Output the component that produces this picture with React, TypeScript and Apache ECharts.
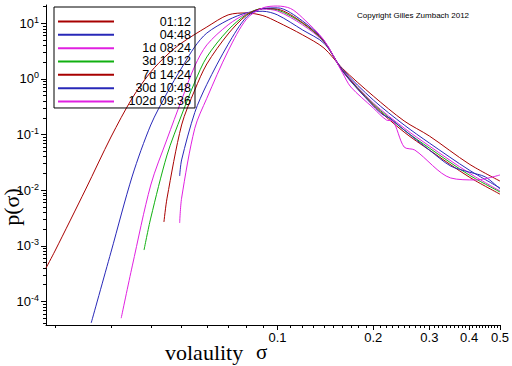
import React, { useEffect, useRef } from "react";
import * as echarts from "echarts";

const NAMES = ["01:12", "04:48", "1d 08:24", "3d 19:12", "7d 14:24", "30d 10:48", "102d 09:36"];
const COLORS = ["#a80000", "#2828b8", "#e020e0", "#10b010", "#a80000", "#2828b8", "#e020e0"];

const X1 = [0.01875, 0.02, 0.025, 0.03, 0.035, 0.04, 0.045, 0.05, 0.06, 0.07, 0.08, 0.09, 0.1, 0.12, 0.14, 0.16, 0.2, 0.25, 0.3, 0.4, 0.5];
const P1 = [3.98e-4, 8.05e-4, 0.0105, 0.0905, 0.455, 1.34, 2.7, 4.44, 8.6, 14.2, 15.4, 13.8, 10.6, 6.2, 3.6, 1.55, 0.494, 0.176, 0.0944, 0.0296, 0.0146];

const X2 = [0.026, 0.03, 0.035, 0.04, 0.045, 0.05, 0.055, 0.06, 0.07, 0.08, 0.09, 0.1, 0.12, 0.14, 0.16, 0.2, 0.25, 0.3, 0.4, 0.5];
const P2 = [4.1e-5, 7.7e-4, 0.018, 0.149, 0.56, 1.58, 3.8, 6.7, 11.5, 15.5, 16.5, 14.2, 7.6, 4.4, 1.5, 0.419, 0.149, 0.0706, 0.0231, 0.011];

const X3 = [0.0323, 0.035, 0.04, 0.045, 0.05, 0.055, 0.06, 0.07, 0.08, 0.09, 0.1, 0.12, 0.14, 0.16, 0.2, 0.25, 0.3, 0.4, 0.5];
const P3 = [5.0e-5, 4.35e-4, 0.0124, 0.083, 0.42, 1.71, 4.1, 9.4, 15, 18, 16.7, 9.4, 4.6, 1.45, 0.37, 0.131, 0.0624, 0.0204, 0.0097];

const X4 = [0.0381, 0.04, 0.045, 0.05, 0.055, 0.06, 0.07, 0.08, 0.09, 0.1, 0.12, 0.14, 0.16, 0.2, 0.25, 0.3, 0.4, 0.5];
const P4 = [8.4e-4, 3.16e-3, 0.043, 0.225, 0.88, 2.49, 7.6, 14.5, 18.5, 17.5, 10, 4.7, 1.42, 0.355, 0.121, 0.0574, 0.0188, 0.0093];

const X5 = [0.044, 0.045, 0.05, 0.055, 0.06, 0.07, 0.08, 0.09, 0.1, 0.12, 0.14, 0.16, 0.2, 0.25, 0.3, 0.4, 0.5];
const P5 = [2.68e-3, 7.2e-3, 0.149, 0.634, 1.86, 6.45, 14, 18.5, 18, 10.3, 4.8, 1.4, 0.34, 0.111, 0.0528, 0.0173, 0.0085];

const X6 = [0.0493, 0.05, 0.055, 0.06, 0.07, 0.08, 0.09, 0.1, 0.12, 0.14, 0.16, 0.2, 0.215, 0.225, 0.25, 0.3, 0.35, 0.4, 0.45, 0.5];
const P6 = [0.018, 0.035, 0.25, 0.8, 4.2, 13, 18.5, 19, 11, 4.9, 1.38, 0.327, 0.225, 0.199, 0.121, 0.0528, 0.0272, 0.0212, 0.0173, 0.0105];

const X7 = [0.0493, 0.05, 0.055, 0.06, 0.07, 0.08, 0.09, 0.1, 0.11, 0.12, 0.14, 0.16, 0.17, 0.2, 0.22, 0.23, 0.25, 0.27, 0.35, 0.42, 0.5];
const P7 = [2.57e-3, 7.2e-3, 0.13, 0.45, 3.2, 12, 19, 20.5, 18.5, 12.5, 5.0, 1.3, 0.718, 0.301, 0.183, 0.176, 0.0598, 0.0528, 0.0166, 0.0153, 0.0188];

const XS = [X1, X2, X3, X4, X5, X6, X7];
const PS = [P1, P2, P3, P4, P5, P6, P7];

const X_MIN = 0.01875;
const X_MAX = 0.5;
const Y_MIN = 3.77e-5;
const Y_MAX = 21.4;

const X_LABELS = [0.1, 0.2, 0.3, 0.4, 0.5];
const Y_LABEL_EXPS = [-4, -3, -2, -1, 0, 1];

const lg = (v: number) => Math.log10(v);

function minorX(): number[] {
  const out: number[] = [];
  for (let i = 2; i <= 9; i++) out.push(lg(i / 100));
  for (let i = 11; i <= 49; i++) if (i % 10 !== 0) out.push(lg(i / 100));
  return out;
}
function minorY(): number[] {
  const out: number[] = [];
  for (let k = -5; k <= 1; k++) for (let m = 2; m <= 9; m++) {
    const v = lg(m) + k;
    if (v >= lg(Y_MIN) && v <= lg(Y_MAX)) out.push(v);
  }
  return out;
}

export default function App() {
  const ref = useRef<HTMLDivElement>(null);
  useEffect(() => {
    if (!ref.current) return;
    const chart = echarts.init(ref.current, undefined, { renderer: "svg" });
    const axisCommon = { type: "value" as const, splitLine: { show: false } };
    const font = "Liberation Sans";
    const serif = "Liberation Serif";
    const option: any = {
      animation: false,
      backgroundColor: "#fff",
      grid: { left: 46, top: 5, width: 456, height: 320 },
      xAxis: [
        {
          ...axisCommon,
          min: lg(X_MIN), max: lg(X_MAX), position: "bottom",
          axisLine: { show: true, onZero: false, lineStyle: { color: "#000", width: 1 } },
          axisTick: { show: true, length: 5, lineStyle: { color: "#000" }, customValues: X_LABELS.map(lg) },
          axisLabel: {
            show: true, customValues: X_LABELS.map(lg), margin: 6, color: "#000", fontSize: 13, fontFamily: font,
            lineHeight: 13,
            formatter: (v: number) => String(Math.round(Math.pow(10, v) * 100) / 100),
          },
        },
        {
          ...axisCommon,
          min: lg(X_MIN), max: lg(X_MAX), position: "bottom",
          axisLine: { show: false, onZero: false },
          axisTick: { show: true, length: 3, lineStyle: { color: "#000" }, customValues: minorX() },
          axisLabel: { show: false },
        },
      ],
      yAxis: [
        {
          ...axisCommon,
          min: lg(Y_MIN), max: lg(Y_MAX), position: "left",
          axisLine: { show: true, onZero: false, lineStyle: { color: "#000", width: 1 } },
          axisTick: { show: true, length: 5, lineStyle: { color: "#000" }, customValues: Y_LABEL_EXPS },
          axisLabel: {
            show: true, customValues: Y_LABEL_EXPS, margin: 7, color: "#000",
            formatter: (v: number) => `{b|10}{s|${Math.round(v)}}`,
            rich: {
              b: { fontSize: 13, fontFamily: font, color: "#000", lineHeight: 16 },
              s: { fontSize: 9, fontFamily: font, color: "#000", verticalAlign: "top", lineHeight: 9 },
            },
          },
        },
        {
          ...axisCommon,
          min: lg(Y_MIN), max: lg(Y_MAX), position: "left",
          axisLine: { show: false, onZero: false },
          axisTick: { show: true, length: 3, lineStyle: { color: "#000" }, customValues: minorY() },
          axisLabel: { show: false },
        },
      ],
      legend: {
        orient: "vertical", left: 54, top: 7, padding: [8, 4, 0, 3], itemGap: 0.33, itemWidth: 56, itemHeight: 2,
        itemStyle: { opacity: 0 },
        borderColor: "#000", borderWidth: 1, backgroundColor: "transparent",
        data: NAMES,
        formatter: (n: string) => `{n|${n}}`,
        textStyle: { rich: { n: { width: 72, align: "right", fontSize: 12.5, lineHeight: 15, color: "#000", fontFamily: font } } },
      },
      series: NAMES.map((name, i) => ({
        name, type: "line", xAxisIndex: 0, yAxisIndex: 0, symbol: "none", smooth: 0.3,
        color: COLORS[i],
        itemStyle: { color: COLORS[i] },
        lineStyle: { width: 1, color: COLORS[i] },
        data: XS[i].map((x, j) => [lg(x), lg(PS[i][j])]),
      })),
      graphic: [
        { type: "text", left: 357, top: 11, style: { text: "Copyright Gilles Zumbach 2012", fontSize: 8, fontFamily: font, fill: "#000" } },
        { type: "text", x: 165, y: 352, style: { text: "volaulity", fontSize: 22, lineHeight: 14, fontFamily: serif, fill: "#000", verticalAlign: "middle" } },
        { type: "text", x: 256, y: 352, style: { text: "σ", fontSize: 21, lineHeight: 14, fontFamily: serif, fill: "#000", verticalAlign: "middle" } },
        { type: "text", x: 11, y: 207, rotation: Math.PI / 2, style: { text: "p(σ)", fontSize: 22, fontFamily: serif, fill: "#000", align: "center", verticalAlign: "middle" } },
      ],
    };
    chart.setOption(option);
    return () => chart.dispose();
  }, []);
  return <div ref={ref} style={{ position: "absolute", left: 0, top: 0, width: 512, height: 366 }} />;
}
